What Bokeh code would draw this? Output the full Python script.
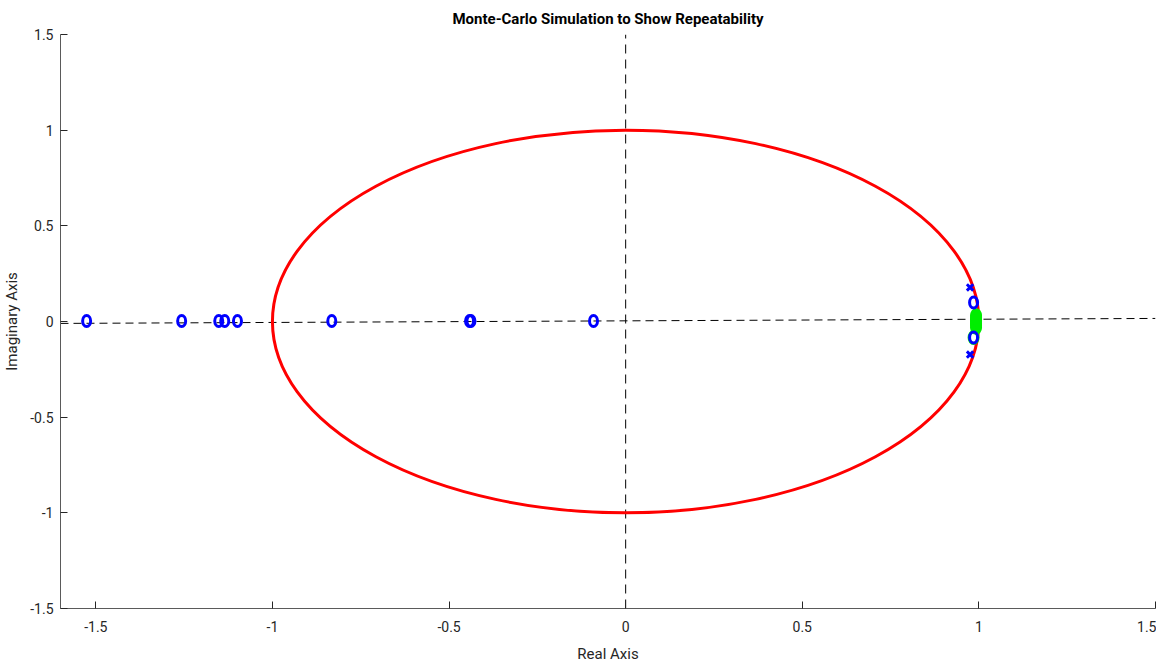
from bokeh.plotting import figure
from bokeh.models import Range1d, FixedTicker, Title
from bokeh.embed import file_html
from bokeh.resources import INLINE

# ---- data ----
zero_re = [-1.526, -1.257, -1.152, -1.135, -1.099, -0.832, -0.442, -0.438, -0.091, 0.985, 0.985]
zero_im = [0.003, 0.003, 0.003, 0.003, 0.003, 0.003, 0.003, 0.003, 0.003, 0.099, -0.084]
pole_re = [0.975, 0.975]
pole_im = [0.178, -0.173]
green_re = [0.992, 0.992, 0.992, 0.992, 0.992, 0.992, 0.992, 0.985]
green_im = [-0.03, -0.02, -0.01, 0.0, 0.01, 0.02, 0.03, -0.084]
hline_x = [-1.6, 1.5]
hline_y = [-0.01, 0.016]
vline_x = [0.0, 0.0]
vline_y = [-1.5, 1.5]
ticks = [-1.5, -1.0, -0.5, 0.0, 0.5, 1.0, 1.5]
tick_labels = ["-1.5", "-1", "-0.5", "0", "0.5", "1", "1.5"]

FONT = "Roboto"
AX = "#262626"

p = figure(width=1156, height=666, output_backend="svg", toolbar_location=None,
           x_range=Range1d(-1.6, 1.5), y_range=Range1d(-1.5, 1.5),
           min_border_left=60, min_border_right=1, min_border_top=34, min_border_bottom=58)
p.title = Title(text="Monte-Carlo Simulation to Show Repeatability", align="center",
                text_font=FONT, text_font_size="15px", text_font_style="bold",
                text_color="#000000", offset=-4, standoff=13)
p.outline_line_color = None
p.grid.visible = False
p.background_fill_color = "white"
p.border_fill_color = "white"

for ax in (p.xaxis[0], p.yaxis[0]):
    ax.ticker = FixedTicker(ticks=ticks)
    ax.major_label_overrides = {t: s for t, s in zip(ticks, tick_labels)}
    ax.major_tick_in = 7
    ax.major_tick_out = 0
    ax.minor_tick_in = 0
    ax.minor_tick_out = 0
    ax.axis_line_color = "#5a5a5a"
    ax.major_tick_line_color = AX
    ax.major_label_text_color = AX
    ax.major_label_text_font = FONT
    ax.major_label_text_font_size = "14px"
    ax.axis_label_text_font = FONT
    ax.axis_label_text_font_size = "15px"
    ax.axis_label_text_font_style = "normal"
    ax.axis_label_text_color = AX

p.xaxis.axis_label = "Real Axis"
p.yaxis.axis_label = "Imaginary Axis"
p.xaxis.major_label_standoff = 12
p.xaxis.axis_label_standoff = 10
p.yaxis.major_label_standoff = 7
p.yaxis.axis_label_standoff = 6

# dashed reference lines
p.line(hline_x, hline_y, line_color="#000000", line_dash="8 5", line_width=1)
p.line(vline_x, vline_y, line_color="#000000", line_dash="9 6", line_width=1)

# unit circle
p.ellipse(x=0, y=0, width=2, height=2, fill_color=None, line_color="#ff0000", line_width=3)

# green markers
p.ellipse(x=green_re, y=green_im, width=9, height=12, width_units="screen", height_units="screen",
          fill_color=None, line_color="#00ee00", line_width=3)
# zeros
p.ellipse(x=zero_re, y=zero_im, width=8, height=11, width_units="screen", height_units="screen",
          fill_color=None, line_color="#0000ff", line_width=3)
# poles
p.scatter(x=pole_re, y=pole_im, marker="x", size=9, line_color="#0000ff", line_width=3)

open("out.html", "w").write(file_html(p, INLINE))
